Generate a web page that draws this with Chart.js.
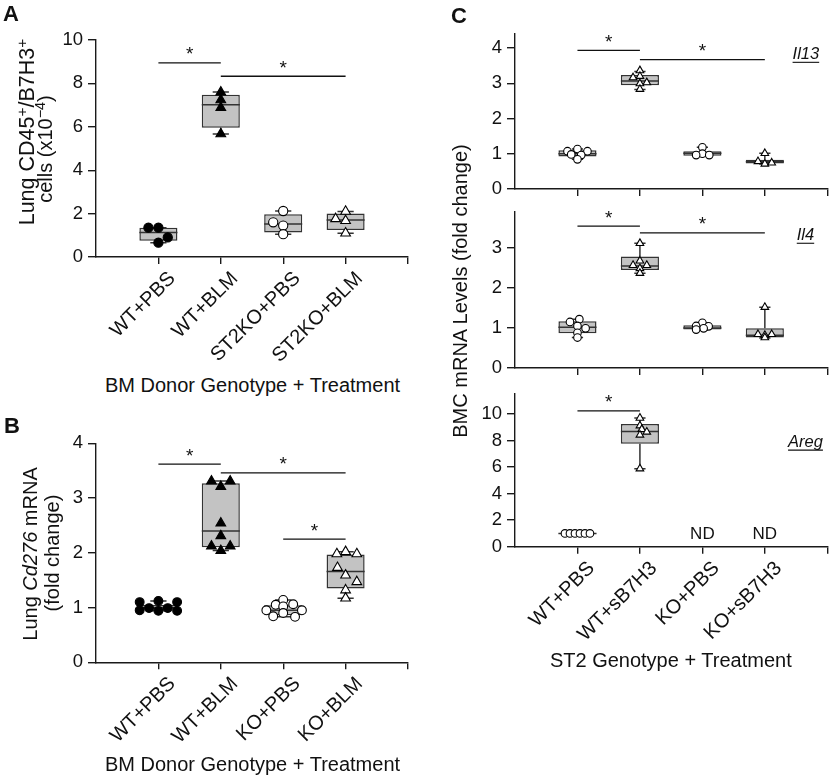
<!DOCTYPE html>
<html>
<head>
<meta charset="utf-8">
<script src="https://cdn.jsdelivr.net/npm/chart.js@4.4.1/dist/chart.umd.min.js"></script>
<style>
  body { margin: 0; background: #fff; }
  #fig { position: relative; width: 830px; height: 775px; overflow: hidden;
         font-family: 'Liberation Sans', Arial, Helvetica, sans-serif; color: #111; }
  #fig canvas { position: absolute; }
  .t { position: absolute; white-space: nowrap; line-height: 1; font-size: 20px;
       transform: translate(-50%, -50%); }
  .v { transform: translate(-50%, -50%) rotate(-90deg); }
  .t sup { font-size: 0.72em; line-height: 0; vertical-align: 0.5em; }
  .p { position: absolute; font-weight: bold; font-size: 22px; line-height: 1; }
</style>
</head>
<body>
<div id="fig">
  <canvas id="cA" width="440" height="372" style="left:0;top:0"></canvas>
  <canvas id="cB" width="440" height="375" style="left:0;top:400px"></canvas>
  <canvas id="cIl13" width="430" height="205" style="left:420px;top:0"></canvas>
  <canvas id="cIl4" width="430" height="188" style="left:420px;top:196px"></canvas>
  <canvas id="cAreg" width="430" height="300" style="left:420px;top:378px"></canvas>

  <div class="p" style="left:3px;top:3px">A</div>
  <div class="p" style="left:4px;top:415px">B</div>
  <div class="p" style="left:451px;top:5px">C</div>

  <div class="t v" style="left:27.5px;top:132px;font-size:21.5px">Lung CD45<sup>+</sup>/B7H3<sup>+</sup></div>
  <div class="t v" style="left:44.5px;top:148.5px">cells (x10<sup>−4</sup>)</div>
  <div class="t" style="left:252.5px;top:384.7px">BM Donor Genotype + Treatment</div>

  <div class="t v" style="left:29.5px;top:554px">Lung <i>Cd276</i> mRNA</div>
  <div class="t v" style="left:52px;top:553px">(fold change)</div>
  <div class="t" style="left:252.5px;top:764px">BM Donor Genotype + Treatment</div>

  <div class="t v" style="left:460px;top:291px">BMC mRNA Levels (fold change)</div>
  <div class="t" style="left:670.8px;top:660px">ST2 Genotype + Treatment</div>
</div>

<script>
const FONT = "'Liberation Sans', Arial, Helvetica, sans-serif";

// group names
const groupsA = ['WT+PBS', 'WT+BLM', 'ST2KO+PBS', 'ST2KO+BLM'];
const groupsB = ['WT+PBS', 'WT+BLM', 'KO+PBS', 'KO+BLM'];
const groupsC = ['WT+PBS', 'WT+sB7H3', 'KO+PBS', 'KO+sB7H3'];

// y ticks
const yTicksA = [0, 2, 4, 6, 8, 10];
const yTicksB = [0, 1, 2, 3, 4];
const yTicksIl13 = [0, 1, 2, 3, 4];
const yTicksIl4 = [0, 1, 2, 3];
const yTicksAreg = [0, 2, 4, 6, 8, 10];

// box stats: [min, q1, median, q3, max]
const boxA = [[0.66, 0.75, 1.13, 1.35, 1.35], [5.67, 5.96, 7.02, 7.48, 7.6], [1.05, 1.13, 1.52, 1.97, 2.12], [1.1, 1.24, 1.70, 2.01, 2.1]];
const boxB = [[0.94, 0.96, 1.0, 1.05, 1.12], [2.04, 2.1, 2.4, 3.27, 3.31], [0.83, 0.86, 0.95, 1.04, 1.14], [1.17, 1.35, 1.66, 1.97, 2.02]];
const boxIl13 = [[0.84, 0.92, 1.0, 1.1, 1.13], [2.82, 2.94, 3.06, 3.23, 3.33], [0.94, 0.94, 1.01, 1.07, 1.18], [0.71, 0.72, 0.77, 0.83, 1.01]];
const boxIl4 = [[0.76, 0.87, 1.02, 1.17, 1.22], [2.37, 2.45, 2.55, 2.79, 3.12], [0.95, 0.96, 1.0, 1.07, 1.13], [0.75, 0.76, 0.82, 0.99, 1.52]];
const boxAreg = [[0.98, 0.98, 1.0, 1.02, 1.02], [5.88, 7.75, 8.68, 9.25, 9.7]];

// individual animals
const ptsA = [[1.35, 1.35, 0.9, 0.66], [7.6, 7.24, 6.88, 5.67], [2.12, 1.6, 1.45, 1.05], [2.1, 1.76, 1.67, 1.1]];
const ptsB = [[1.1, 0.95, 0.99, 1.12, 0.94, 0.99, 1.1, 0.94], [3.31, 3.31, 3.21, 2.54, 2.31, 2.12, 2.12, 2.04],
              [1.14, 1.05, 1.06, 1.02, 0.95, 0.95, 0.9, 0.84, 0.83], [1.98, 2.02, 1.98, 1.73, 1.59, 1.47, 1.32, 1.17]];
const ptsIl13 = [[1.13, 1.07, 1.07, 0.98, 0.96, 0.84], [3.36, 3.2, 3.16, 3.02, 2.99, 2.83], [1.18, 1.0, 0.96, 0.96], [1.01, 0.78, 0.71, 0.74]];
const ptsIl4 = [[1.22, 1.15, 1.05, 0.99, 0.88, 0.76], [3.12, 2.68, 2.57, 2.57, 2.49, 2.37], [1.13, 1.05, 1.04, 0.99, 0.96], [1.52, 0.84, 0.82, 0.84, 0.76]];
const ptsAreg = [[1.0, 1.0, 1.0, 1.0, 1.0, 1.0], [9.7, 9.12, 8.85, 8.65, 8.42, 5.88]];

// horizontal jitter of the dots (category units)
const jitA = [[-0.16, 0, 0.15, 0], [0, 0, 0, 0], [0, -0.16, 0, 0], [0, -0.16, 0, 0]];
const jitB = [[-0.3, -0.3, -0.15, 0, 0, 0.15, 0.3, 0.3], [-0.15, 0.15, 0, 0, 0, -0.15, 0.15, 0],
              [0, -0.12, 0.16, 0, -0.27, 0.3, 0, -0.16, 0.19], [-0.14, 0, 0.18, -0.13, 0, 0.18, 0, 0]];
const jitIl13 = [[0, -0.16, 0.16, -0.1, 0.06, 0], [0, 0, -0.11, 0.11, 0, 0], [0, 0, -0.1, 0.11], [0, -0.11, 0, 0.11]];
const jitIl4 = [[0.03, -0.12, 0, 0.13, 0, 0], [0, 0, -0.11, 0.11, 0, 0], [0, -0.1, 0.1, 0.02, -0.1], [0, -0.11, 0, 0.11, 0]];
const jitAreg = [[-0.2, -0.12, -0.04, 0.04, 0.12, 0.2], [0, 0, 0.03, 0.11, 0, 0]];

// significance brackets: [from group, to group, y]
const sigA = [[1, 2, 8.95], [2, 4, 8.33]];
const sigB = [[1, 2, 3.62], [2, 4, 3.46], [3, 4, 2.25]];
const sigIl13 = [[1, 2, 3.93], [2, 4, 3.67]];
const sigIl4 = [[1, 2, 3.55], [2, 4, 3.38]];
const sigAreg = [[1, 2, 10.24]];

const PANELS = {
  cA: { labels: groupsA, yTicks: yTicksA, ymax: 10, box: boxA, pts: ptsA, jit: jitA, sig: sigA,
        shapes: ['circleFill', 'triFill', 'circle', 'tri'], circR: 4.6, triR: 5.6, cap: 0.13,
        pad: { top: 40, right: 32 }, yw: 96, xh: 115, showX: true },
  cB: { labels: groupsB, yTicks: yTicksB, ymax: 4, box: boxB, pts: ptsB, jit: jitB, sig: sigB,
        shapes: ['circleFill', 'triFill', 'circle', 'tri'], circR: 4.4, triR: 5.6, cap: 0.13,
        pad: { top: 43.3, right: 32 }, yw: 96, xh: 112.7, showX: true },
  cIl13: { labels: groupsC, yTicks: yTicksIl13, ymax: 4.4, box: boxIl13, pts: ptsIl13, jit: jitIl13, sig: sigIl13,
        shapes: ['circle', 'tri', 'circle', 'tri'], circR: 3.8, triR: 4.4, cap: 0.09,
        pad: { top: 33.9, right: 22.7 }, yw: 95, xh: 14, showX: false, gene: ['Il13', 4.87, 3.82] },
  cIl4: { labels: groupsC, yTicks: yTicksIl4, ymax: 3.9, box: boxIl4, pts: ptsIl4, jit: jitIl4, sig: sigIl4,
        shapes: ['circle', 'tri', 'circle', 'tri'], circR: 3.8, triR: 4.4, cap: 0.09,
        pad: { top: 15.7, right: 22.7 }, yw: 95, xh: 15.7, showX: false, gene: ['Il4', 4.79, 3.32] },
  cAreg: { labels: groupsC, yTicks: yTicksAreg, ymax: 11.5, box: boxAreg, pts: ptsAreg, jit: jitAreg, sig: sigAreg,
        shapes: ['circle', 'tri'], circR: 3.8, triR: 4.4, cap: 0.09,
        pad: { top: 12, right: 22.7 }, yw: 95, xh: 131.3, showX: true, gene: ['Areg', 4.93, 7.88], nd: [3, 4] }
};

// whiskers, medians, brackets, stars, labels
const extras = {
  id: 'extras',
  afterDatasetDraw(chart, args) {
    if (args.meta.type !== 'bar') return;
    const p = PANELS[chart.canvas.id];
    const { ctx, scales: { x, y } } = chart;
    ctx.save();
    ctx.strokeStyle = '#333';
    ctx.lineWidth = 1.5;
    p.box.forEach((b, i) => {
      const cx = x.getPixelForValue(i + 1);
      const cap = x.getPixelForValue(i + 1 + p.cap) - cx;
      const half = x.getPixelForValue(i + 1.305) - cx;
      const [mn, q1, md, q3, mx] = b.map(v => y.getPixelForValue(v));
      ctx.beginPath();
      ctx.moveTo(cx, q3); ctx.lineTo(cx, mx);
      ctx.moveTo(cx - cap, mx); ctx.lineTo(cx + cap, mx);
      ctx.moveTo(cx, q1); ctx.lineTo(cx, mn);
      ctx.moveTo(cx - cap, mn); ctx.lineTo(cx + cap, mn);
      ctx.moveTo(cx - half, md); ctx.lineTo(cx + half, md);
      ctx.stroke();
    });
    ctx.restore();
  },
  afterDatasetsDraw(chart) {
    const p = PANELS[chart.canvas.id];
    const { ctx, scales: { x, y } } = chart;
    ctx.save();
    ctx.strokeStyle = '#111';
    ctx.fillStyle = '#111';
    ctx.lineWidth = 1.3;
    ctx.font = '19px ' + FONT;
    ctx.textAlign = 'center';
    ctx.textBaseline = 'alphabetic';
    p.sig.forEach(([a, b, v]) => {
      const x1 = x.getPixelForValue(a), x2 = x.getPixelForValue(b), yy = y.getPixelForValue(v);
      ctx.beginPath();
      ctx.moveTo(x1, yy); ctx.lineTo(x2, yy);
      ctx.stroke();
      ctx.fillText('*', (x1 + x2) / 2, yy - 2.5);
    });
    if (p.nd) {
      ctx.font = '17px ' + FONT;
      ctx.textBaseline = 'middle';
      p.nd.forEach(g => ctx.fillText('ND', x.getPixelForValue(g), y.getPixelForValue(0.93)));
    }
    if (p.gene) {
      const [txt, gx, gy] = p.gene;
      ctx.font = 'italic 16.5px ' + FONT;
      ctx.textAlign = 'right';
      ctx.textBaseline = 'middle';
      const px = x.getPixelForValue(gx), py = y.getPixelForValue(gy);
      ctx.fillText(txt, px, py);
      const w = ctx.measureText(txt).width;
      ctx.lineWidth = 1.1;
      ctx.beginPath();
      ctx.moveTo(px - w, py + 8); ctx.lineTo(px, py + 8);
      ctx.stroke();
    }
    ctx.restore();
  }
};
Chart.register(extras);

function buildPanel(id) {
  const p = PANELS[id];
  const datasets = [{
    type: 'bar',
    order: 1,
    data: p.box.map((b, i) => ({ x: i + 1, y: [b[1], b[3]] })),
    backgroundColor: '#c3c3c3',
    borderColor: '#333',
    borderWidth: 1.5,
    borderSkipped: false,
    barPercentage: 0.61,
    categoryPercentage: 1
  }];
  p.pts.forEach((vals, i) => {
    const tri = p.shapes[i].startsWith('tri');
    const filled = p.shapes[i].endsWith('Fill');
    datasets.push({
      type: 'scatter',
      order: 0,
      clip: false,
      data: vals.map((v, k) => ({ x: i + 1 + p.jit[i][k], y: v })),
      pointStyle: tri ? 'triangle' : 'circle',
      pointRadius: tri ? p.triR : p.circR,
      backgroundColor: filled ? '#000' : '#fff',
      borderColor: '#000',
      borderWidth: 1.1
    });
  });

  return new Chart(document.getElementById(id), {
    type: 'scatter',
    data: { datasets },
    options: {
      responsive: false,
      animation: false,
      events: [],
      layout: { padding: { top: p.pad.top, right: p.pad.right, left: 0, bottom: 0 } },
      plugins: { legend: { display: false }, tooltip: { enabled: false } },
      scales: {
        x: {
          type: 'linear', min: 0, max: 5, offset: false,
          afterBuildTicks: s => { s.ticks = [1, 2, 3, 4, 5].map(v => ({ value: v })); },
          afterFit: s => { s.height = p.xh; },
          grid: { drawOnChartArea: false, drawTicks: true, tickLength: 7, color: '#1a1a1a', lineWidth: 1.4, offset: false },
          border: { color: '#1a1a1a', width: 1.4 },
          ticks: {
            autoSkip: false, minRotation: 45, maxRotation: 45, padding: 3, labelOffset: 14,
            color: '#111', font: { family: FONT, size: 20 },
            callback: v => (p.showX && p.labels[v - 1]) || ''
          }
        },
        y: {
          type: 'linear', min: 0, max: p.ymax,
          afterBuildTicks: s => { s.ticks = p.yTicks.map(v => ({ value: v })); },
          afterFit: s => { s.width = p.yw; },
          grid: { drawOnChartArea: false, drawTicks: true, tickLength: 8, color: '#1a1a1a', lineWidth: 1.4 },
          border: { color: '#1a1a1a', width: 1.4 },
          ticks: { padding: 5, color: '#111', font: { family: FONT, size: 18.5 } }
        }
      }
    }
  });
}

Object.keys(PANELS).forEach(buildPanel);
</script>
</body>
</html>
